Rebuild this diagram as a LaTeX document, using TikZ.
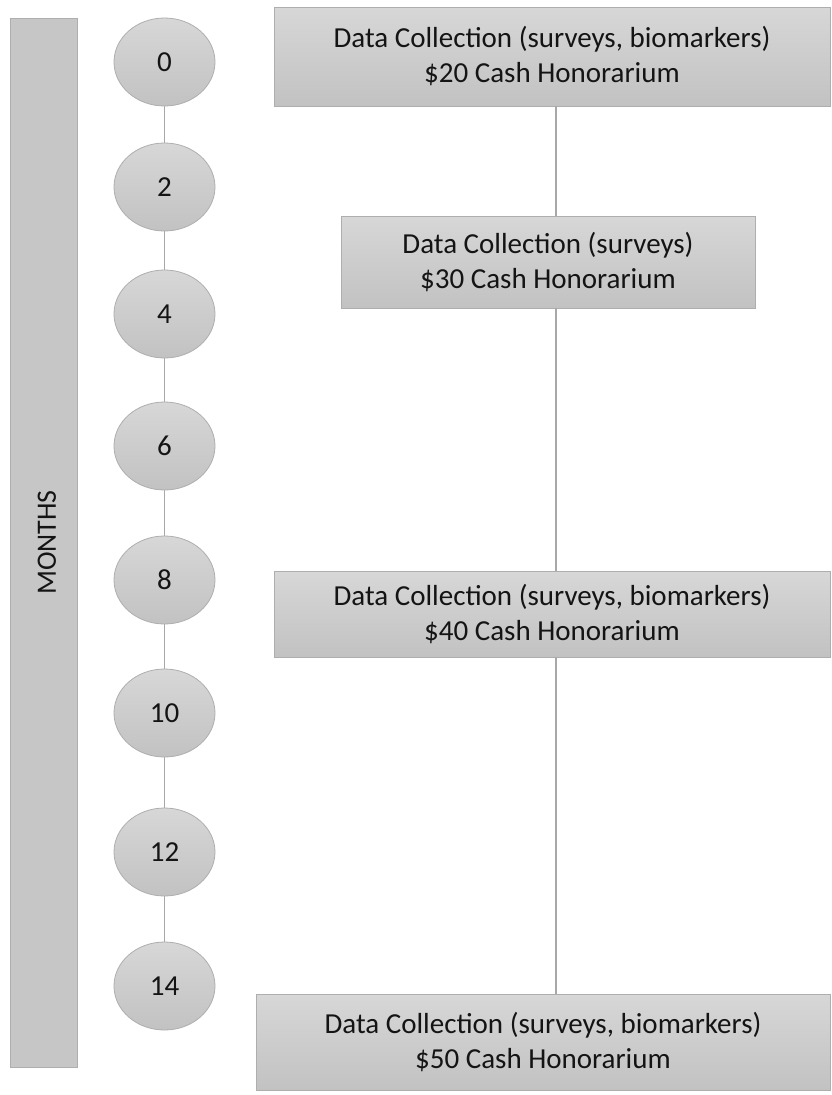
\documentclass[tikz,border=0pt]{standalone}
\usepackage{fontspec}
\setmainfont{Carlito}
\usetikzlibrary{shapes.geometric,calc}
\definecolor{edgegray}{HTML}{AEAEAE}
\definecolor{linegray}{HTML}{A8A8A8}
\definecolor{topgray}{HTML}{D7D7D7}
\definecolor{botgray}{HTML}{C2C2C2}
\definecolor{bargray}{HTML}{C6C6C6}
\definecolor{txt}{HTML}{141414}
\tikzset{
  month/.style={ellipse, draw=edgegray, line width=0.8pt, top color=topgray, bottom color=botgray,
    minimum width=101pt, minimum height=88pt, inner sep=0pt, font=\fontsize{29}{31}\selectfont, text=txt},
  event/.style={rectangle, draw=edgegray, line width=0.8pt, top color=topgray, bottom color=botgray,
    align=center, inner sep=0pt, font=\fontsize{29}{35}\selectfont, text=txt},
  link/.style={draw=linegray, line width=1.1pt},
}
\begin{document}
\begin{tikzpicture}[x=1pt,y=-1pt]
\useasboundingbox (0,0) rectangle (831,1095);
% MONTHS bar
\node[rectangle, draw=edgegray, line width=0.8pt, fill=bargray, minimum width=67pt, minimum height=1049pt, inner sep=0pt] (bar) at (43.5,542.5) {};
\node[rotate=90, font=\fontsize{28}{30}\selectfont, text=txt] (monthslbl) at (47,542.5) {MONTHS};
% month circles
\node[month] (m0) at (164.5,62) {0};
\node[month] (m2) at (164.5,187) {2};
\node[month] (m4) at (164.5,314) {4};
\node[month] (m6) at (164.5,446) {6};
\node[month] (m8) at (164.5,580) {8};
\node[month] (m10) at (164.5,713) {10};
\node[month] (m12) at (164.5,852) {12};
\node[month] (m14) at (164.5,986) {14};
\foreach \a/\b in {m0/m2,m2/m4,m4/m6,m6/m8,m8/m10,m10/m12,m12/m14}{
  \draw[link] (\a.south) -- (\b.north);
}
% events
\node[event, minimum width=556pt, minimum height=99pt] (e1) at (552,56.5) {Data Collection (surveys, biomarkers)\\\$20 Cash Honorarium};
\node[event, minimum width=414pt, minimum height=92pt] (e2) at (548,262) {Data Collection (surveys)\\\$30 Cash Honorarium};
\node[event, minimum width=556pt, minimum height=86pt] (e3) at (552,614) {Data Collection (surveys, biomarkers)\\\$40 Cash Honorarium};
\node[event, minimum width=574pt, minimum height=96pt] (e4) at (543,1042) {Data Collection (surveys, biomarkers)\\\$50 Cash Honorarium};
\coordinate (lx) at (556,0);
\draw[link] (e1.south -| lx) -- (e2.north -| lx);
\draw[link] (e2.south -| lx) -- (e3.north -| lx);
\draw[link] (e3.south -| lx) -- (e4.north -| lx);
\end{tikzpicture}
\end{document}
